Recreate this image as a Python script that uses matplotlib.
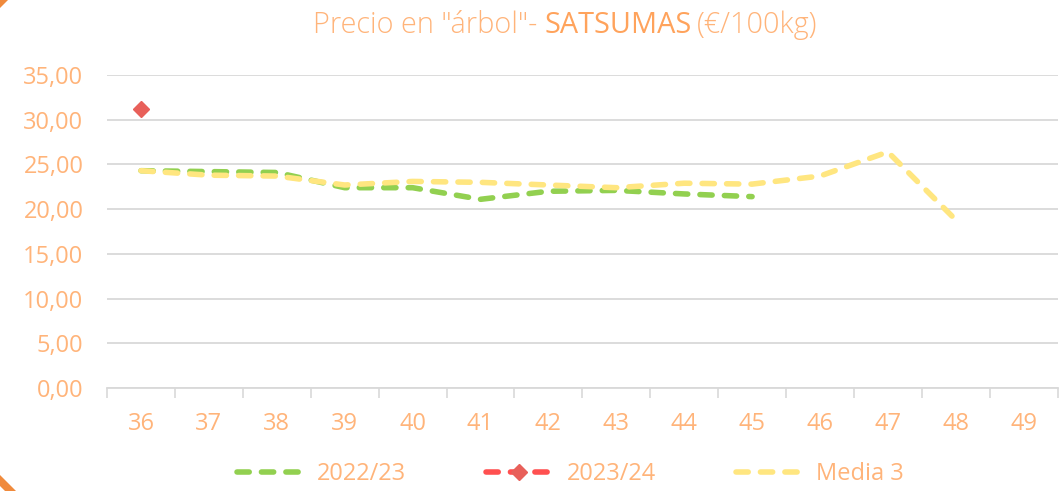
import matplotlib
matplotlib.use("Agg")
import matplotlib.pyplot as plt
from matplotlib.patches import Polygon
import numpy as np

weeks = ["36", "37", "38", "39", "40", "41", "42", "43", "44", "45", "46", "47", "48", "49"]
s2022 = [24.3, 24.2, 24.1, 22.4, 22.4, 21.1, 22.0, 22.1, 21.7, 21.4]
s2023 = [31.2]
media3 = [24.3, 23.8, 23.7, 22.7, 23.1, 23.0, 22.7, 22.4, 22.9, 22.8, 23.7, 26.4, 18.8]
yticks = [0, 5, 10, 15, 20, 25, 30, 35]

txt = "#FFB47A"
txt_dark = "#FFA35C"
green = "#92D050"
red_line = "#FF5050"
red_mk = "#E8605A"
yellow = "#FFE680"
grid = "#D9D9D9"
corner = "#F08A3C"

plt.rcParams['font.family'] = ['Open Sans', 'DejaVu Sans']

fig = plt.figure(figsize=(10.64, 4.91), dpi=100)
ax = fig.add_axes([0.1006, 0.2098, 0.8934, 0.6374])

dash = (0, (2.2, 2.2))
x = np.arange(len(weeks))
ax.plot(x[:len(s2022)], s2022, color=green, lw=4, ls=dash,
        dash_capstyle='round', label="2022/23", zorder=3)
ax.plot(x[:len(s2023)], s2023, color=red_line, lw=4, ls=dash,
        marker='D', markersize=8, markerfacecolor=red_mk, markeredgecolor=red_mk,
        dash_capstyle='round', label="2023/24", zorder=4)
ax.plot(x[:len(media3)], media3, color=yellow, lw=4, ls=dash,
        dash_capstyle='round', label="Media 3", zorder=3)

ax.set_xlim(-0.5, len(weeks) - 0.5)
ax.set_ylim(0, 35)
ax.set_yticks(yticks)
ax.set_yticklabels([f"{v:.2f}".replace(".", ",") for v in yticks])
ax.set_xticks(x)
ax.set_xticklabels(weeks)
ax.set_xticks(np.arange(-0.5, len(weeks), 1.0), minor=True)
ax.tick_params(axis='x', which='major', length=0, pad=17, labelsize=17, labelcolor=txt)
ax.tick_params(axis='x', which='minor', length=7, color=grid, width=1.2)
ax.tick_params(axis='y', length=0, pad=17, labelsize=17, labelcolor=txt)
ax.grid(axis='y', color=grid, lw=1.3)
ax.set_axisbelow(True)
for sp in ['top', 'right', 'left']:
    ax.spines[sp].set_visible(False)
ax.spines['bottom'].set_color(grid)
ax.spines['bottom'].set_linewidth(1.3)

# Title with mixed weights
ty = 0.949
tx = 0.294
fs = 20.8
t1 = fig.text(tx, ty, 'Precio en "árbol"- ', color=txt, fontsize=fs, fontweight='light', ha='left', va='center')
fig.canvas.draw()
r = fig.canvas.get_renderer()
bb = t1.get_window_extent(r)
x2 = bb.x1 / fig.bbox.width
t2 = fig.text(x2, ty, 'SATSUMAS', color=txt_dark, fontsize=fs, fontweight='normal', ha='left', va='center')
bb2 = t2.get_window_extent(r)
x3 = bb2.x1 / fig.bbox.width
fig.text(x3 + 0.005, ty, '(€/100kg)', color=txt, fontsize=fs, fontweight='light', ha='left', va='center')

leg = fig.legend(loc='center', bbox_to_anchor=(0.536, 0.034), ncol=3, frameon=False,
                 fontsize=17, labelcolor=txt, handlelength=2.8, columnspacing=3.4,
                 handletextpad=0.6)

# Orange corner fragments of the chart's rounded border
W, H = 1064, 491
fig.patches.append(Polygon([(0, 1), (8 / W, 1), (0, 1 - 8 / H)], closed=True,
                           transform=fig.transFigure, color=corner, lw=0))
fig.patches.append(Polygon([(0, 1 - 475 / H), (0, 1 - 486 / H), (5 / W, 0), (16 / W, 0)],
                           closed=True, transform=fig.transFigure, color=corner, lw=0))

fig.savefig("out.png", dpi=100)
